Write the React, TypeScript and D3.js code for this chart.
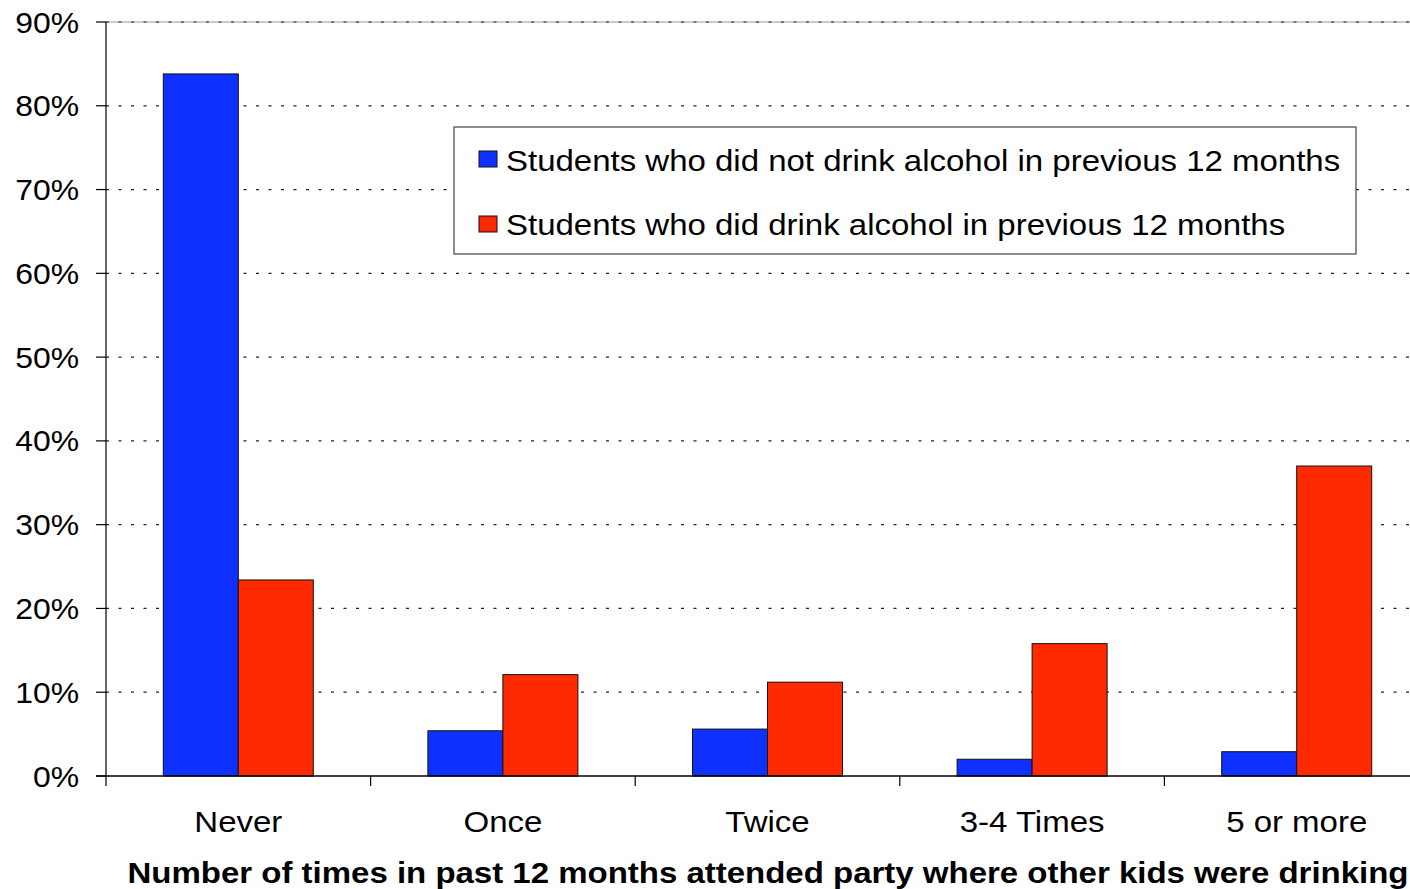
import React from "react";
import * as d3 from "d3";

const categories = ["Never", "Once", "Twice", "3-4 Times", "5 or more"];
const notDrink = [0.838, 0.054, 0.056, 0.02, 0.029];
const didDrink = [0.234, 0.121, 0.112, 0.158, 0.37];
const seriesNames = [
  "Students who did not drink alcohol in previous 12 months",
  "Students who did drink alcohol in previous 12 months",
];
const yTicks = [0, 0.1, 0.2, 0.3, 0.4, 0.5, 0.6, 0.7, 0.8, 0.9];
const xTitle = "Number of times in past 12 months attended party where other kids were drinking";

const W = 1410;
const H = 889;
const colors = ["#0f31ff", "#ff2a00"];
const SX = 1.1;

function T({ x, y, anchor = "start", size = 30, bold = false, children }: any) {
  return (
    <g transform={`translate(${x},${y}) scale(${SX},1)`}>
      <text x={0} y={0} textAnchor={anchor} fontSize={size} fontWeight={bold ? "bold" : "normal"} fill="#000">
        {children}
      </text>
    </g>
  );
}

export default function App() {
  const left = 106;
  const bandW = 264.6;
  const x = d3.scaleBand<string>().domain(categories).range([left, left + bandW * categories.length]).padding(0);
  const y = d3.scaleLinear().domain([0, 0.9]).range([776, 22]);
  const barW = 75;
  const groupOffset = (bandW - 2 * barW) / 2;
  const font = "'Liberation Sans', Arial, sans-serif";
  const series = [notDrink, didDrink];

  return (
    <svg width={W} height={H} style={{ position: "absolute", left: 0, top: 0, background: "#fff" }} fontFamily={font}>
      {yTicks.filter((t) => t > 0).map((t) => (
        <g key={t}>
          {t === 0.9 && <line x1={left} x2={W} y1={y(t)} y2={y(t)} stroke="#999" strokeWidth={1} />}
          <line x1={left} x2={W} y1={y(t)} y2={y(t)} stroke="#222" strokeWidth={1.2} strokeDasharray="3,9.5" />
        </g>
      ))}
      {categories.map((c, i) => (
        <g key={c}>
          {series.map((s, j) => (
            <rect
              key={j}
              x={(x(c) as number) + groupOffset + j * barW}
              y={y(s[i])}
              width={barW}
              height={y(0) - y(s[i])}
              fill={colors[j]}
              stroke="#111"
              strokeWidth={1}
            />
          ))}
        </g>
      ))}
      <line x1={left} x2={left} y1={y(0.9)} y2={y(0) + 10} stroke="#000" strokeWidth={1.2} />
      <line x1={left - 10} x2={W} y1={y(0)} y2={y(0)} stroke="#000" strokeWidth={1.5} />
      {yTicks.map((t) => (
        <g key={t}>
          <line x1={left - 10} x2={left} y1={y(t)} y2={y(t)} stroke="#000" strokeWidth={1.2} />
          <T x={79} y={y(t) + 10.5} anchor="end" size={29}>
            {d3.format(".0%")(t)}
          </T>
        </g>
      ))}
      {categories.map((c, i) => (
        <g key={c}>
          {i > 0 && <line x1={x(c) as number} x2={x(c) as number} y1={y(0)} y2={y(0) + 10} stroke="#000" strokeWidth={1.2} />}
          <T x={(x(c) as number) + bandW / 2} y={832} anchor="middle">
            {c}
          </T>
        </g>
      ))}
      <T x={768} y={883} anchor="middle" bold>
        {xTitle}
      </T>
      <rect x={454} y={127} width={902} height={127} fill="#fff" stroke="#444" strokeWidth={1.2} />
      {seriesNames.map((n, j) => (
        <g key={n}>
          <rect x={479} y={151 + j * 65} width={18} height={16} fill={colors[j]} stroke="#111" strokeWidth={1} />
          <T x={506} y={171 + j * 64}>
            {n}
          </T>
        </g>
      ))}
    </svg>
  );
}
